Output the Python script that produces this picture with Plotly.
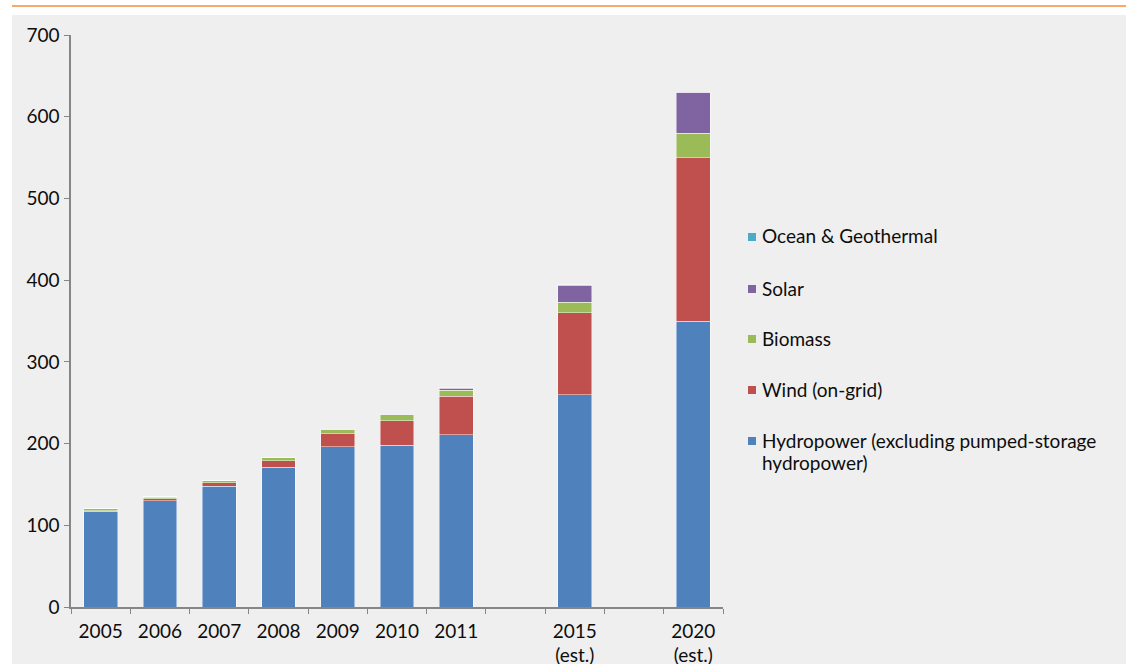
import plotly.graph_objects as go

# Installed capacity (GW) by source
years = ["2005", "2006", "2007", "2008", "2009", "2010", "2011", "2015<br>(est.)", "2020<br>(est.)"]
axis_categories = ["2005", "2006", "2007", "2008", "2009", "2010", "2011", " ",
                   "2015<br>(est.)", "  ", "2020<br>(est.)"]

hydropower = [117, 130, 148, 171, 196, 198, 211, 260, 350]
wind = [1, 2.6, 4, 8, 16, 30, 47, 100, 200]
biomass = [2, 2, 2.5, 4, 5, 7, 7, 13, 30]
solar = [0.07, 0.08, 0.1, 0.15, 0.3, 0.8, 3, 21, 50]
ocean_geothermal = [0.03, 0.03, 0.03, 0.03, 0.03, 0.03, 0.03, 0.1, 0.1]

series = [
    ("Hydropower (excluding pumped-storage hydropower)", hydropower, "#4f81bd"),
    ("Wind (on-grid)", wind, "#c0504d"),
    ("Biomass", biomass, "#9bbb59"),
    ("Solar", solar, "#8064a2"),
    ("Ocean & Geothermal", ocean_geothermal, "#4bacc6"),
]

W, H = 1126, 664
L, R, T, B = 71, 723, 35, 607  # plot area in pixels
FONT = "Lato, Carlito, Calibri, sans-serif"
FSIZE = 19
TEXT = "#0d0d0d"


def px_x(x):
    return (x - L) / (R - L)


def px_y(y):
    return (B - y) / (B - T)


fig = go.Figure()
for name, vals, color in series:
    fig.add_trace(go.Bar(
        x=years, y=vals, name=name,
        marker=dict(color=color, line=dict(color="rgba(255,255,255,0.55)", width=0.8)),
        showlegend=False,
    ))

shapes = [
    # grey panel behind the chart
    dict(type="rect", xref="paper", yref="paper", layer="below",
         x0=px_x(12), x1=px_x(W + 5), y0=px_y(15), y1=px_y(H + 5),
         fillcolor="#efefef", line=dict(width=0)),
    # orange rule along the top
    dict(type="line", xref="paper", yref="paper",
         x0=px_x(12), x1=px_x(W + 5), y0=px_y(6), y1=px_y(6),
         line=dict(color="#f7a86a", width=2)),
]

annotations = []


def legend_text(text, yc):
    annotations.append(dict(xref="paper", yref="paper", x=px_x(760), y=px_y(yc),
                            text=text, showarrow=False, xanchor="left", yanchor="middle",
                            align="left", font=dict(family=FONT, size=FSIZE, color=TEXT)))


# legend: swatch + label, top to bottom
legend_rows = [
    (["Ocean & Geothermal"], "#4bacc6", 237),
    (["Solar"], "#8064a2", 289),
    (["Biomass"], "#9bbb59", 339),
    (["Wind (on-grid)"], "#c0504d", 390),
    (["Hydropower (excluding pumped-storage", "hydropower)"], "#4f81bd", 441),
]
for lines, color, yc in legend_rows:
    shapes.append(dict(type="rect", xref="paper", yref="paper",
                       x0=px_x(748), x1=px_x(756), y0=px_y(yc + 4), y1=px_y(yc - 4),
                       fillcolor=color, line=dict(width=0)))
    for i, line in enumerate(lines):
        legend_text(line, yc - 1 + 22 * i)

fig.update_layout(
    width=W, height=H,
    margin=dict(l=L, r=W - R, t=T, b=H - B, pad=0, autoexpand=False),
    paper_bgcolor="white",
    plot_bgcolor="#efefef",
    barmode="stack",
    bargap=0.43,
    showlegend=False,
    font=dict(family=FONT, size=FSIZE, color=TEXT),
    shapes=shapes,
    annotations=annotations,
    xaxis=dict(
        type="category", categoryorder="array", categoryarray=axis_categories,
        range=[-0.5, 10.5], showgrid=False, zeroline=False, automargin=False,
        showline=True, linecolor="#868686", linewidth=1.5,
        ticks="outside", tickson="boundaries", ticklen=5, tickcolor="#868686",
        ticklabelstandoff=6, tickfont=dict(family=FONT, size=FSIZE, color=TEXT),
    ),
    yaxis=dict(
        range=[0, 700], dtick=100, showgrid=False, zeroline=False, automargin=False,
        showline=True, linecolor="#868686", linewidth=1.5,
        ticks="outside", ticklen=5, tickcolor="#868686",
        ticklabelstandoff=1, tickfont=dict(family=FONT, size=FSIZE, color=TEXT),
    ),
)

fig.write_html("out.html")
